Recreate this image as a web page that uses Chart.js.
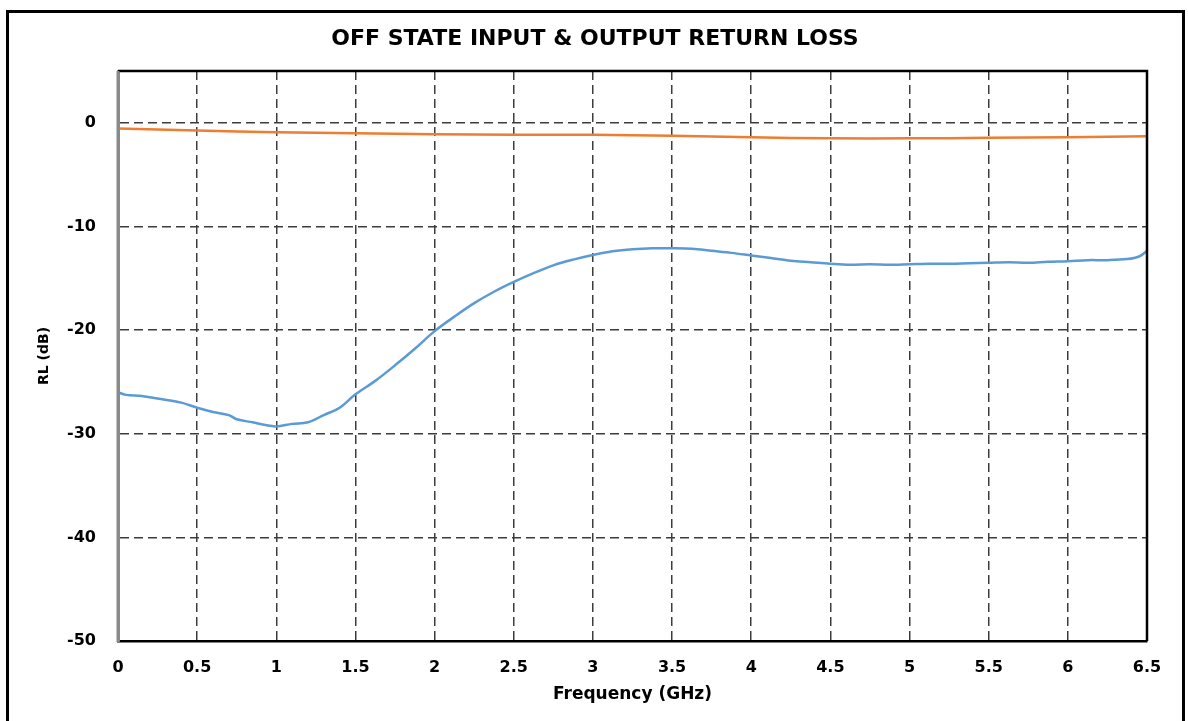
<!DOCTYPE html>
<html>
<head>
<meta charset="utf-8">
<script src="https://cdn.jsdelivr.net/npm/chart.js@4/dist/chart.umd.min.js"></script>
<style>
  html, body { margin: 0; padding: 0; background: #fff; overflow: hidden; }
  #wrap { position: relative; width: 1188px; height: 721px; }
  #frame { position: absolute; left: 6px; top: 10px; width: 1179px; height: 800px; border: 3px solid #000; box-sizing: border-box; }
  canvas { position: absolute; left: 0; top: 0; }
</style>
</head>
<body>
<div id="wrap">
  <div id="frame"></div>
  <canvas id="c" width="1188" height="721"></canvas>
</div>
<script>
const chartTitle = 'OFF STATE INPUT & OUTPUT RETURN LOSS';
const xTitle = 'Frequency (GHz)';
const yTitle = 'RL (dB)';

const inputFreq = [0, 0.05, 0.15, 0.25, 0.4, 0.5, 0.6, 0.7, 0.75, 0.85, 0.95, 1.0, 1.1, 1.2, 1.3, 1.4, 1.5, 1.625, 1.75, 1.875, 2.0, 2.125, 2.25, 2.375, 2.5, 2.625, 2.75, 2.875, 3.0, 3.125, 3.25, 3.375, 3.5, 3.625, 3.75, 3.875, 4.0, 4.125, 4.25, 4.375, 4.5, 4.625, 4.75, 4.875, 5.0, 5.125, 5.25, 5.375, 5.5, 5.625, 5.75, 5.875, 6.0, 6.125, 6.25, 6.375, 6.45, 6.5];
const inputRL = [-26.0, -26.25, -26.35, -26.6, -27.0, -27.5, -27.9, -28.2, -28.6, -28.9, -29.2, -29.3, -29.05, -28.9, -28.2, -27.5, -26.2, -24.9, -23.4, -21.8, -20.1, -18.7, -17.4, -16.3, -15.35, -14.5, -13.75, -13.2, -12.75, -12.4, -12.2, -12.1, -12.1, -12.15, -12.35, -12.55, -12.8, -13.05, -13.3, -13.45, -13.6, -13.7, -13.65, -13.7, -13.65, -13.6, -13.6, -13.55, -13.5, -13.45, -13.5, -13.4, -13.35, -13.25, -13.25, -13.15, -12.9, -12.35];

const outputFreq = [0, 0.5, 1.0, 1.5, 2.0, 2.5, 3.0, 3.5, 4.0, 4.5, 5.0, 5.5, 6.0, 6.5];
const outputRL = [-0.55, -0.75, -0.9, -1.0, -1.1, -1.15, -1.15, -1.25, -1.4, -1.5, -1.5, -1.45, -1.4, -1.3];

const xMin = 0, xMax = 6.5, xStep = 0.5;
const yMin = -50, yMax = 5, yStep = 10;

const toPts = (xs, ys) => xs.map((x, i) => ({ x: x, y: ys[i] }));
const FONT = "'DejaVu Sans', sans-serif";

const decor = {
  id: 'decor',
  afterDraw(chart) {
    const { ctx, chartArea: a } = chart;
    ctx.save();
    ctx.strokeStyle = '#000';
    ctx.lineWidth = 2.5;
    ctx.beginPath();
    ctx.moveTo(a.left, a.top);
    ctx.lineTo(a.right, a.top);
    ctx.lineTo(a.right, a.bottom);
    ctx.stroke();
    ctx.strokeStyle = '#8a8a8a';
    ctx.lineWidth = 3;
    ctx.beginPath();
    ctx.moveTo(a.left, a.top);
    ctx.lineTo(a.left, a.bottom + 1);
    ctx.stroke();
    ctx.fillStyle = '#000';
    ctx.font = "bold 22px " + FONT;
    ctx.textAlign = 'center';
    ctx.textBaseline = 'middle';
    ctx.fillText(chartTitle, 595, 39);
    ctx.restore();
  }
};

const tickFont = { family: FONT, size: 16, weight: 'bold' };

new Chart(document.getElementById('c'), {
  type: 'line',
  data: {
    datasets: [
      { label: 'Input', data: toPts(inputFreq, inputRL), borderColor: '#5B9BD5', borderWidth: 2.5, pointRadius: 0, tension: 0.35, fill: false },
      { label: 'Output', data: toPts(outputFreq, outputRL), borderColor: '#ED7D31', borderWidth: 2.5, pointRadius: 0, tension: 0.35, fill: false }
    ]
  },
  options: {
    responsive: false,
    animation: false,
    layout: { padding: { left: 0, right: 41, top: 71, bottom: 0 } },
    plugins: {
      legend: { display: false },
      tooltip: { enabled: false },
      title: { display: false }
    },
    scales: {
      x: {
        type: 'linear', min: xMin, max: xMax,
        afterFit(s) { s.height = 80; },
        ticks: { stepSize: xStep, color: '#000', font: tickFont, padding: 17, maxRotation: 0, callback: (v) => String(Number(v.toFixed(2))) },
        grid: { color: '#3c3c3c', lineWidth: 1.5, drawTicks: false },
        border: { color: '#000', width: 2.5, dash: [9, 5] },
        title: { display: true, text: xTitle, color: '#000', font: { family: FONT, size: 17, weight: 'bold' }, padding: { top: 0, bottom: 16 } }
      },
      y: {
        type: 'linear', min: yMin, max: yMax,
        afterFit(s) { s.width = 118; },
        ticks: { stepSize: yStep, color: '#000', font: tickFont, padding: 22, callback: (v) => (v > 0 ? '' : String(v)) },
        grid: { color: '#3c3c3c', lineWidth: 1.5, drawTicks: false },
        border: { color: '#8a8a8a', width: 3, dash: [9, 5] },
        title: { display: true, text: yTitle, color: '#000', font: { family: FONT, size: 14, weight: 'bold' }, padding: { top: 36, bottom: 0 } }
      }
    }
  },
  plugins: [decor]
});
</script>
</body>
</html>
